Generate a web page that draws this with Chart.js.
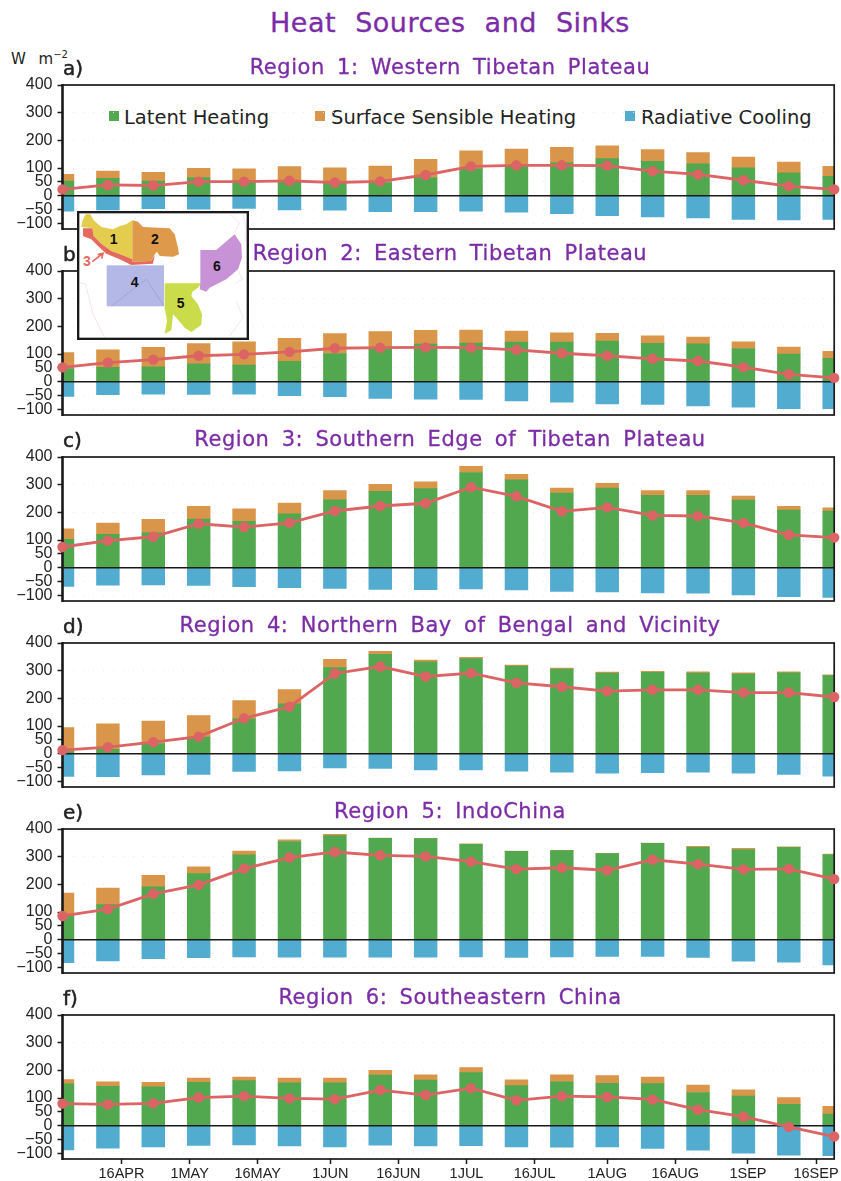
<!DOCTYPE html>
<html>
<head>
<meta charset="utf-8">
<title>Heat Sources and Sinks</title>
<script src="https://cdn.jsdelivr.net/npm/chart.js@4/dist/chart.umd.min.js"></script>
<style>
    html, body { margin: 0; padding: 0; background: #fff; }
    #page { position: relative; width: 841px; height: 1181px; overflow: hidden; }
    #page canvas { position: absolute; left: 0; }
    .txt { position: absolute; white-space: pre; font-family: "DejaVu Sans", sans-serif; line-height: 1; }
    .titolo { color: #7b2ca6; transform: translateX(-50%); -webkit-text-stroke: 0.3px #7b2ca6; }
    .lettera { left: 63px; font-size: 20px; color: #222; -webkit-text-stroke: 0.5px #222; }
    .voce { color: #222; font-size: 19.5px; top: 108px; }
    .quadro { position: absolute; width: 10px; height: 10px; top: 111px; }
    #inset { position: absolute; left: 77px; top: 211px; z-index: 5; background: #fff; }
</style>
</head>
<body>
<div id="page">
    <div class="txt titolo" style="left:450px;top:9px;font-size:27px;letter-spacing:0.5px;word-spacing:10px;">Heat Sources and Sinks</div>
    <div class="txt" style="left:11px;top:52px;font-size:15px;color:#222;word-spacing:8px;">W m<sup style="font-size:10px;line-height:0;">−2</sup></div>

    <div class="quadro" style="left:109px;background:#52a84f;"></div>
    <div class="txt voce" style="left:124px;">Latent Heating</div>
    <div class="quadro" style="left:315px;background:#d9964a;"></div>
    <div class="txt voce" style="left:331px;">Surface Sensible Heating</div>
    <div class="quadro" style="left:625px;background:#52acd0;"></div>
    <div class="txt voce" style="left:641px;">Radiative Cooling</div>

    <svg id="inset" width="172" height="129" viewBox="22 20 516 387">
        <rect x="25" y="23" width="510" height="381" fill="#fff"/>
        <g fill="none" stroke="#f3d8dc" stroke-width="2">
            <polyline points="30,235 48,240 70,330 105,400"/>
            <polyline points="480,30 510,55 495,85"/>
            <polyline points="520,30 530,70 528,110"/>
            <polyline points="500,290 520,340 480,395"/>
            <polyline points="505,200 518,225 500,235"/>
        </g>
        <polygon fill="#e4cd4e" points="48,30 62,30 72,48 95,68 130,75 150,65 170,60 188,48 188,165 165,155 125,140 95,118 72,95 68,72 35,68 38,50"/>
        <polygon fill="#de9a4a" points="188,48 205,52 220,68 300,72 315,90 325,130 328,150 310,157 270,155 262,142 255,150 245,170 188,172"/>
        <polygon fill="#e56a5e" points="40,72 68,72 72,95 95,118 125,140 165,155 188,165 188,172 245,170 255,152 250,178 185,182 150,165 110,148 85,125 65,105 40,95"/>
        <rect fill="#b4b8e6" x="111" y="183" width="172" height="123"/>
        <polyline fill="none" stroke="#9a9cc4" stroke-width="2" points="125,306 190,255 230,225 283,305"/>
        <polygon fill="#cbdc4a" points="285,237 395,237 385,250 368,262 365,275 385,300 397,330 395,362 365,383 345,370 320,340 310,330 305,378 285,388 292,350 285,310"/>
        <polygon fill="#c893d6" points="392,137 440,137 465,115 495,90 515,120 517,160 505,195 470,225 420,250 410,262 390,255 392,237"/>
        <polyline fill="none" stroke="#e56a5e" stroke-width="5" points="68,172 100,147 84,151 100,147 96,163"/>
        <g font-family="Liberation Sans, sans-serif" font-weight="bold" font-size="42" text-anchor="middle" fill="#111">
            <text x="132" y="120">1</text>
            <text x="256" y="120">2</text>
            <text x="195" y="248">4</text>
            <text x="333" y="312">5</text>
            <text x="442" y="200">6</text>
            <text x="52" y="184" fill="#e56a5e">3</text>
        </g>
        <rect x="25" y="23" width="510" height="381" fill="none" stroke="#1a1a1a" stroke-width="8"/>
    </svg>
</div>

<script>
var giorni = [0, 10, 20, 30, 40, 50, 60, 70, 80, 90, 100, 110, 120, 130, 140, 150, 160, 170];
var tickGiorni = [13, 28, 43, 59, 74, 89, 104, 120, 135, 151, 166];
var tickDate = ['16APR', '1MAY', '16MAY', '1JUN', '16JUN', '1JUL', '16JUL', '1AUG', '16AUG', '1SEP', '16SEP'];
var tickValori = [400, 300, 200, 100, 50, 0, -50, -100];

var lettere = ['a)', 'b)', 'c)', 'd)', 'e)', 'f)'];
var titoli = [
    'Region 1: Western Tibetan Plateau',
    'Region 2: Eastern Tibetan Plateau',
    'Region 3: Southern Edge of Tibetan Plateau',
    'Region 4: Northern Bay of Bengal and Vicinity',
    'Region 5: IndoChina',
    'Region 6: Southeastern China'
];

var latent1 = [53, 63, 53, 66, 54, 54, 48, 48, 66, 97, 108, 120, 134, 124, 115, 101, 83, 70];
var sensible1 = [24, 26, 32, 33, 43, 51, 53, 59, 66, 65, 61, 55, 46, 43, 41, 39, 39, 36];
var radiative1 = [-56, -51, -47, -48, -46, -51, -52, -57, -57, -56, -59, -65, -72, -76, -80, -85, -87, -85];
var net1 = [23, 39, 37, 51, 51, 54, 48, 52, 75, 106, 110, 110, 109, 89, 77, 56, 35, 23];

var latent2 = [48, 52, 54, 65, 60, 74, 102, 118, 136, 140, 143, 143, 147, 139, 137, 120, 100, 85];
var sensible2 = [57, 63, 70, 73, 84, 83, 72, 63, 50, 47, 40, 34, 28, 27, 24, 24, 25, 25];
var radiative2 = [-53, -47, -45, -46, -45, -50, -54, -60, -63, -64, -69, -74, -80, -82, -87, -92, -97, -97];
var net2 = [52, 69, 80, 94, 99, 108, 121, 123, 124, 123, 115, 103, 94, 83, 75, 53, 27, 14];

var latent3 = [103, 121, 126, 176, 168, 195, 245, 276, 286, 344, 318, 270, 288, 262, 262, 244, 208, 205];
var sensible3 = [38, 40, 49, 46, 45, 39, 34, 25, 24, 22, 19, 18, 17, 17, 17, 15, 14, 11];
var radiative3 = [-67, -63, -62, -64, -68, -72, -75, -78, -79, -76, -80, -85, -87, -91, -92, -98, -104, -107];
var net3 = [75, 98, 112, 159, 147, 162, 205, 223, 233, 291, 258, 204, 218, 189, 187, 162, 119, 109];

var latent4 = [8, 16, 37, 60, 126, 180, 311, 359, 332, 344, 317, 306, 291, 294, 291, 288, 292, 282];
var sensible4 = [87, 92, 81, 78, 66, 52, 30, 11, 6, 4, 3, 3, 4, 4, 5, 4, 4, 3];
var radiative4 = [-82, -83, -76, -75, -64, -62, -51, -53, -58, -58, -63, -66, -70, -68, -66, -70, -75, -81];
var net4 = [13, 24, 42, 62, 128, 170, 290, 315, 279, 291, 256, 242, 226, 231, 231, 221, 221, 205];

var latent5 = [90, 127, 191, 239, 307, 355, 376, 366, 365, 345, 319, 322, 311, 348, 334, 326, 334, 308];
var sensible5 = [79, 60, 42, 24, 13, 6, 5, 1, 1, 1, 1, 1, 1, 1, 3, 4, 2, 1];
var radiative5 = [-83, -76, -68, -65, -62, -63, -63, -63, -63, -62, -64, -62, -60, -60, -64, -77, -81, -91];
var net5 = [86, 111, 166, 198, 257, 297, 317, 305, 301, 282, 255, 260, 251, 289, 273, 254, 256, 219];

var latent6 = [151, 142, 141, 157, 163, 155, 155, 183, 165, 192, 145, 159, 153, 152, 120, 107, 77, 42];
var sensible6 = [16, 17, 16, 15, 13, 17, 17, 17, 19, 18, 21, 25, 28, 24, 27, 23, 25, 28];
var radiative6 = [-87, -81, -76, -71, -69, -73, -76, -70, -73, -72, -76, -77, -76, -82, -88, -99, -106, -108];
var net6 = [80, 77, 81, 102, 107, 99, 96, 129, 111, 136, 92, 107, 104, 95, 58, 33, -4, -39];

var pannelli = [
    { latent: latent1, sensible: sensible1, radiative: radiative1, net: net1, top: 85 },
    { latent: latent2, sensible: sensible2, radiative: radiative2, net: net2, top: 271 },
    { latent: latent3, sensible: sensible3, radiative: radiative3, net: net3, top: 457 },
    { latent: latent4, sensible: sensible4, radiative: radiative4, net: net4, top: 643 },
    { latent: latent5, sensible: sensible5, radiative: radiative5, net: net5, top: 829 },
    { latent: latent6, sensible: sensible6, radiative: radiative6, net: net6, top: 1015 }
];

var MARGINE_SOPRA = 8;
var ALTEZZA_PLOT = 144;

// asse zero e cornice vanno sopra le barre ma sotto la linea
var cornice = {
    id: 'cornice',
    beforeDatasetDraw: function(chart, args) {
        if (args.index !== 3) {
            return;
        }
        var a = chart.chartArea;
        var ctx = chart.ctx;
        var zero = chart.scales.y.getPixelForValue(0);
        ctx.save();
        ctx.strokeStyle = '#1a1a1a';
        ctx.lineWidth = 1.7;
        ctx.beginPath();
        ctx.moveTo(a.left, zero);
        ctx.lineTo(a.right, zero);
        ctx.stroke();
        ctx.strokeRect(a.left, a.top, a.right - a.left, a.bottom - a.top);
        ctx.lineWidth = 2.4;
        ctx.beginPath();
        ctx.moveTo(a.left, a.top - 1);
        ctx.lineTo(a.left, a.bottom + 1);
        ctx.stroke();
        ctx.restore();
    }
};

function punti(valori) {
    var out = [];
    for (var i = 0; i < giorni.length; i++) {
        out.push({ x: giorni[i], y: valori[i] });
    }
    return out;
}

function barra(valori, colore) {
    return {
        type: 'bar',
        data: punti(valori),
        backgroundColor: colore,
        barThickness: 22.8,
        stack: 'flussi',
        order: 2,
        clip: 0
    };
}

function disegnaPannello(p, indice) {
    var ultimo = indice === pannelli.length - 1;
    var sotto = ultimo ? 30 : 8;

    var canvas = document.createElement('canvas');
    canvas.style.top = (p.top - MARGINE_SOPRA) + 'px';
    document.getElementById('page').appendChild(canvas);
    canvas.width = 841;
    canvas.height = MARGINE_SOPRA + ALTEZZA_PLOT + sotto;

    new Chart(canvas, {
        data: {
            datasets: [
                barra(p.latent, '#52a84f'),
                barra(p.sensible, '#d9964a'),
                barra(p.radiative, '#52acd0'),
                {
                    type: 'line',
                    data: punti(p.net),
                    borderColor: '#dc6464',
                    backgroundColor: '#dc6464',
                    borderWidth: 2.8,
                    pointRadius: 3.8,
                    tension: 0,
                    order: 1,
                    clip: false
                }
            ]
        },
        options: {
            responsive: false,
            animation: false,
            layout: { padding: { top: MARGINE_SOPRA, right: 4.3, bottom: ultimo ? 0 : 8 } },
            plugins: { legend: { display: false }, tooltip: { enabled: false } },
            scales: {
                x: {
                    type: 'linear',
                    display: ultimo,
                    stacked: true,
                    offset: false,
                    min: 0,
                    max: 170,
                    border: { display: false },
                    grid: { offset: false, drawOnChartArea: false, tickLength: 5, tickColor: '#1a1a1a', tickWidth: 1.5 },
                    afterBuildTicks: function(scale) {
                        scale.ticks = tickGiorni.map(function(v) { return { value: v }; });
                    },
                    afterFit: function(scale) {
                        scale.height = ultimo ? 30 : 0;
                        scale.paddingLeft = 0;
                        scale.paddingRight = 0;
                    },
                    ticks: {
                        autoSkip: false,
                        maxRotation: 0,
                        padding: 1,
                        color: '#222',
                        font: { family: '"Liberation Sans"', size: 14.5 },
                        callback: function(v, i) { return tickDate[i]; }
                    }
                },
                y: {
                    stacked: true,
                    min: -120,
                    max: 400,
                    border: { display: false, dash: [1, 9] },
                    grid: { color: '#e8e8e8', tickLength: 5, tickColor: '#1a1a1a', tickWidth: 1.5 },
                    afterBuildTicks: function(scale) {
                        scale.ticks = tickValori.map(function(v) { return { value: v }; });
                    },
                    afterFit: function(scale) {
                        scale.width = 62.5;
                        scale.paddingTop = 0;
                        scale.paddingBottom = 0;
                    },
                    ticks: {
                        autoSkip: false,
                        padding: 5,
                        color: '#222',
                        font: { family: '"Liberation Sans"', size: 16 },
                        callback: function(v) { return String(v).replace('-', '−'); }
                    }
                }
            }
        },
        plugins: [cornice]
    });

    var titolo = document.createElement('div');
    titolo.className = 'txt titolo';
    titolo.textContent = titoli[indice];
    titolo.style.cssText = 'left:450px;font-size:21px;letter-spacing:0.55px;word-spacing:5px;top:' + (p.top - 28) + 'px;';
    document.getElementById('page').appendChild(titolo);

    var lettera = document.createElement('div');
    lettera.className = 'txt lettera';
    lettera.textContent = lettere[indice];
    lettera.style.top = (p.top - 27) + 'px';
    document.getElementById('page').appendChild(lettera);
}

for (var i = 0; i < pannelli.length; i++) {
    disegnaPannello(pannelli[i], i);
}
</script>
</body>
</html>
